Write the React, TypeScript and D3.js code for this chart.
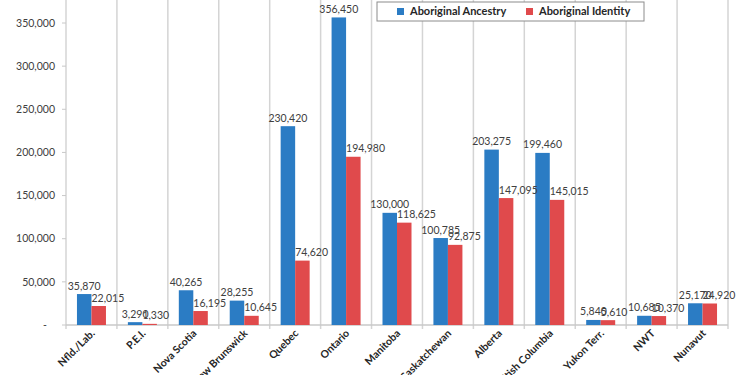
import React from "react";
import * as d3 from "d3";

const categories = ["Nfld./Lab.", "P.E.I.", "Nova Scotia", "New Brunswick", "Quebec", "Ontario", "Manitoba", "Saskatchewan", "Alberta", "British Columbia", "Yukon Terr.", "NWT", "Nunavut"];
const ancestry = [35870, 3290, 40265, 28255, 230420, 356450, 130000, 100785, 203275, 199460, 5840, 10685, 25170];
const identity = [22015, 1330, 16195, 10645, 74620, 194980, 118625, 92875, 147095, 145015, 5610, 10370, 24920];
const seriesNames = ["Aboriginal Ancestry", "Aboriginal Identity"];
const yTicks = [0, 50000, 100000, 150000, 200000, 250000, 300000, 350000];

const W = 750, H = 375;
const BLUE = "#2b7cc4";
const RED = "#e04a4c";
const FONT = "Lato, 'Open Sans', sans-serif";

export default function App() {
  const x = d3.scaleBand<string>().domain(categories).range([66, 728]);
  const y = d3.scaleLinear().domain([0, 350000]).range([325, 23]);
  const bw = 14.5;
  const fmt = d3.format(",");
  const series = [ancestry, identity];
  const colors = [BLUE, RED];
  return (
    <svg width={W} height={H} style={{ position: "absolute", left: 0, top: 0, background: "#fff" }}>
      {/* vertical gridlines */}
      {categories.map((c) => (
        <line key={"g" + c} x1={x(c)!} x2={x(c)!} y1={0} y2={329} stroke="#d4d4d4" strokeWidth={1.5} />
      ))}
      <line x1={x.range()[1]} x2={x.range()[1]} y1={0} y2={329} stroke="#d4d4d4" strokeWidth={1.5} />
      {/* baseline */}
      <line x1={66} x2={728} y1={y(0)} y2={y(0)} stroke="#c8c8c8" strokeWidth={1.5} />
      {/* y ticks */}
      {yTicks.map((t) => (
        <g key={"t" + t}>
          <line x1={62} x2={66} y1={y(t)} y2={y(t)} stroke="#c8c8c8" />
          <text x={t === 0 ? 47 : 55} y={y(t)} dy="0.35em" textAnchor="end" fontSize={10.5} fontFamily={FONT} fill="#404040">
            {t === 0 ? "-" : fmt(t)}
          </text>
        </g>
      ))}
      {/* bars */}
      {series.map((s, si) =>
        s.map((v, i) => {
          const cx = x(categories[i])! + x.bandwidth() / 2;
          const bx = cx - bw + si * bw;
          return (
            <rect key={`b${si}-${i}`} x={bx} y={y(v)} width={bw} height={y(0) - y(v)} fill={colors[si]} />
          );
        })
      )}
      {/* value labels */}
      {series.map((s, si) =>
        s.map((v, i) => {
          const cx = x(categories[i])! + x.bandwidth() / 2;
          const bx = cx - bw + si * bw;
          return (
            <text
              key={`l${si}-${i}`}
              x={si === 0 ? bx + bw / 2 : bx}
              y={y(v) - 4.5}
              textAnchor={si === 0 ? "middle" : "start"}
              fontSize={10.5}
              fontFamily={FONT}
              fill="#404040"
            >
              {fmt(v)}
            </text>
          );
        })
      )}
      {/* category labels */}
      {categories.map((c) => {
        const cx = x(c)! + x.bandwidth() / 2 + 4;
        return (
          <text
            key={"c" + c}
            transform={`translate(${cx},${334}) rotate(-45)`}
            textAnchor="end"
            fontSize={10.5}
            fontWeight="bold"
            fontFamily={FONT}
            fill="#262626"
          >
            {c}
          </text>
        );
      })}
      {/* legend */}
      <rect x={377} y={2} width={267} height={19} fill="#fff" stroke="#8c8c8c" strokeWidth={1} />
      {seriesNames.map((n, i) => {
        const lx = i === 0 ? 397 : 526;
        return (
          <g key={"lg" + n}>
            <rect x={lx} y={8} width={7} height={7} fill={colors[i]} />
            <text x={lx + 13} y={11.5} dy="0.35em" fontSize={11} fontWeight="bold" fontFamily={FONT} fill="#262626">
              {n}
            </text>
          </g>
        );
      })}
    </svg>
  );
}
